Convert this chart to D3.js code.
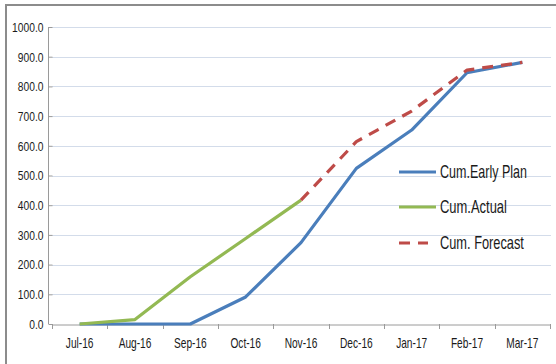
<!DOCTYPE html>
<html><head><meta charset="utf-8">
<script src="https://cdn.jsdelivr.net/npm/d3@7"></script>
<style>
html,body{margin:0;padding:0;background:#fff;}
svg{display:block;}
text{font-family:"Liberation Sans",Arial,sans-serif;fill:#1a1a1a;}
</style></head>
<body>
<svg id="chart" width="556" height="364"></svg>
<script>
const categories = ["Jul-16","Aug-16","Sep-16","Oct-16","Nov-16","Dec-16","Jan-17","Feb-17","Mar-17"];
const earlyPlan = [0, 0, 0, 91, 274, 524, 653, 846, 881];
const actual    = [0, 15, 159, 288, 417, null, null, null, null];
const forecast  = [null, null, null, null, 417, 614, 717, 855, 881];
const yTicks = [0,100,200,300,400,500,600,700,800,900,1000];
const seriesNames = ["Cum.Early Plan","Cum.Actual","Cum. Forecast"];
const colors = ["#4a7ebb","#93b953","#be4b48"];

const svg = d3.select("#chart");
const x = d3.scaleBand().domain(categories).range([52,550]);
const y = d3.scaleLinear().domain([0,1000]).range([324,27]);

function squeeze(sel, f){
  sel.each(function(){
    const w = this.getComputedTextLength();
    d3.select(this).attr("textLength", w*f).attr("lengthAdjust","spacingAndGlyphs");
  });
}

// outer border
svg.append("rect").attr("x",6).attr("y",5).attr("width",600).attr("height",400)
  .attr("fill","#fff").attr("stroke","#8c8c8c").attr("stroke-width",2);

// gridlines
svg.append("g").selectAll("line").data(yTicks.filter(d=>d>0)).join("line")
  .attr("x1",52).attr("x2",551).attr("y1",d=>Math.round(y(d))+0.5).attr("y2",d=>Math.round(y(d))+0.5)
  .attr("stroke","#d3dcea").attr("stroke-width",1);

// y axis
const yAxis = svg.append("g").attr("transform","translate(52.5,0)")
  .call(d3.axisLeft(y).tickValues(yTicks).tickFormat(d3.format(".1f")).tickSize(4).tickPadding(5));
yAxis.select(".domain").attr("stroke","#9a9a9a").attr("d","M-4,27V324");
yAxis.selectAll(".tick line").attr("stroke","#9a9a9a");
yAxis.selectAll(".tick text").attr("font-size",13.5).attr("fill","#1a1a1a")
  .style("font-family",'"Liberation Sans",Arial,sans-serif').call(squeeze,0.76);

// x axis
const xAxis = svg.append("g").attr("transform","translate(0,324.5)")
  .call(d3.axisBottom(x).tickSize(0).tickPadding(13));
xAxis.select(".domain").attr("stroke","#9a9a9a");
xAxis.selectAll(".tick text").attr("font-size",14.5).attr("fill","#1a1a1a")
  .style("font-family",'"Liberation Sans",Arial,sans-serif').call(squeeze,0.7);
// boundary tick marks between categories
const bounds = categories.map(c=>x(c)).concat([x.range()[1]]);
svg.append("g").selectAll("line").data(bounds).join("line")
  .attr("x1",d=>Math.round(d)+0.5).attr("x2",d=>Math.round(d)+0.5).attr("y1",324).attr("y2",329)
  .attr("stroke","#9a9a9a");

const cx = i => x(categories[i]) + x.bandwidth()/2;
const line = d3.line().defined(d=>d!=null).x((d,i)=>cx(i)).y(d=>y(d));

const allSeries = [earlyPlan, actual, forecast];
allSeries.forEach((s,k)=>{
  svg.append("path").datum(s).attr("d",line).attr("fill","none")
    .attr("stroke",colors[k]).attr("stroke-width",3.2)
    .attr("stroke-linejoin","round")
    .attr("stroke-dasharray",k===2?"11,8":null);
});

// legend
const legY = [172, 207, 243];
const legW = [87, 67, 84];
const lg = svg.append("g");
seriesNames.forEach((n,k)=>{
  lg.append("line").attr("x1",399).attr("x2",k===2?428:436).attr("y1",legY[k]).attr("y2",legY[k])
    .attr("stroke",colors[k]).attr("stroke-width",3.2).attr("stroke-dasharray",k===2?"11,8":null);
  const t = lg.append("text").attr("x",0).attr("y",0).attr("dy","0.36em")
    .attr("font-size",18).text(n);
  const w = t.node().getComputedTextLength();
  t.attr("transform",`translate(440,${legY[k]}) scale(${legW[k]/w},1)`);
});
</script>
</body></html>
